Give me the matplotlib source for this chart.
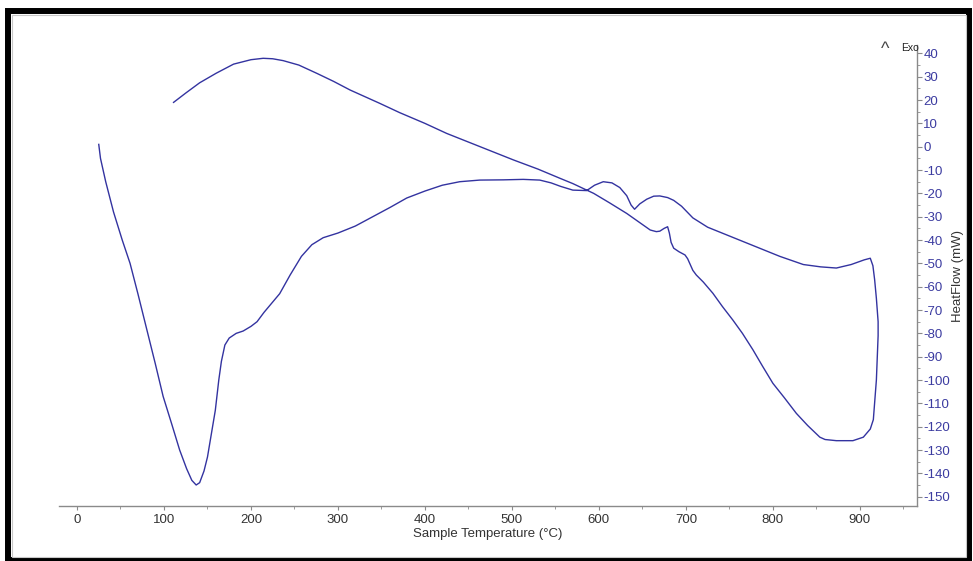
import matplotlib
matplotlib.use('Agg')
import matplotlib.pyplot as plt
from matplotlib.patches import Rectangle
from matplotlib.ticker import MultipleLocator

plt.rcParams['font.family'] = ['Liberation Sans', 'DejaVu Sans']
plt.rcParams['axes.unicode_minus'] = False

# DSC trace: heating run then the cooling run, one continuous record
temp = [25, 27, 33, 42, 52, 61, 70, 80, 90, 99, 109, 118, 126, 132, 137, 141, 146, 150,
        155, 159, 163, 166, 170, 175, 183, 191, 200, 207, 215, 224, 233, 245, 258, 270,
        283, 300, 320, 340, 360, 379, 400, 420, 440, 463, 490, 513, 532, 545, 556, 570,
        586, 595, 605, 615, 624, 632, 637, 641, 647, 655, 663, 670, 679, 686, 695, 708,
        725, 745, 762, 785, 808, 835, 855, 873, 890, 905, 912, 915, 917, 919, 921, 921,
        920, 919, 917, 915.5, 912, 904, 892, 873, 860, 854, 840, 827, 813, 800, 788, 777,
        765, 754, 742, 731, 720, 712, 708, 705, 702, 699, 692, 686, 683, 681, 679, 675,
        670, 666, 659, 645, 632, 612, 594, 586, 570, 555, 530, 502, 465, 425, 400, 371,
        348, 314, 295, 276, 255, 237, 225, 214, 200, 180, 160, 141, 125, 111]
heatflow = [1, -5, -15, -28, -40, -50, -63, -78, -93, -107, -119, -130, -138, -143, -145,
            -144, -139, -133, -122, -113, -100, -92, -85, -82, -80, -79, -77, -75, -71, -67,
            -63, -55, -47, -42, -39, -37, -34, -30, -26, -22, -19, -16.5, -15, -14.3, -14.2,
            -14, -14.3, -15.5, -17, -18.6, -18.8, -16.5, -15, -15.5, -17.5, -21, -25, -26.8,
            -24.5, -22.5, -21.2, -21.1, -21.8, -23, -25.5, -30.5, -34.5, -37.5, -40, -43.5,
            -47, -50.5, -51.5, -52, -50.5, -48.5, -47.8, -51, -57, -65, -75, -81, -90, -100,
            -110, -117, -121, -124.5, -126, -126, -125.5, -124.5, -119.5, -114.3, -107.5,
            -101.4, -94, -87, -80, -74.3, -68.5, -62.8, -58, -55, -53, -50.5, -48, -46.4, -45,
            -43.5, -41, -37, -34.3, -35, -36.2, -36.4, -35.7, -32, -28.6, -24, -20, -18.6,
            -15.8, -13.5, -9.6, -5.7, -0.2, 5.7, 10, 14.6, 18.6, 24.3, 28, 31.4, 35, 36.9,
            37.7, 37.9, 37.3, 35.4, 31.5, 27.4, 23, 19]

x_ticks = list(range(0, 901, 100))
y_ticks = list(range(-150, 41, 10))

W, H = 973, 561
fig = plt.figure(figsize=(W / 100, H / 100), dpi=100)
ax = fig.add_axes([59 / W, 55 / H, 858 / W, 461 / H])

ax.plot(temp, heatflow, color='#3333a0', linewidth=1.0)

ax.set_xlim(-20.7, 965.7)
ax.set_ylim(-154, 43.6)
ax.set_xticks(x_ticks)
ax.set_yticks(y_ticks)
ax.xaxis.set_minor_locator(MultipleLocator(50))
ax.yaxis.set_minor_locator(MultipleLocator(5))

ax.yaxis.tick_right()
ax.yaxis.set_label_position('right')
for side in ['left', 'top']:
    ax.spines[side].set_visible(False)
for side in ['bottom', 'right']:
    ax.spines[side].set_color('#8a8a8a')
    ax.spines[side].set_linewidth(1.0)

ax.tick_params(axis='x', which='major', length=3, color='#8a8a8a', labelsize=9.5,
               labelcolor='#333333', pad=3)
ax.tick_params(axis='x', which='minor', length=2, color='#8a8a8a')
ax.tick_params(axis='y', which='major', length=3.5, color='#8a8a8a', labelsize=9.5,
               labelcolor='#3b3ba0', pad=1)
ax.tick_params(axis='y', which='minor', length=2, color='#8a8a8a')

ax.set_xlabel('Sample Temperature (°C)', fontsize=9.5, color='#333333', labelpad=1)
ax.set_ylabel('HeatFlow (mW)', fontsize=9.5, color='#333333')
ax.yaxis.set_label_coords((952 - 59) / 858, 0.5)

fig.text(885 / W, 1 - 50 / H, '^', fontsize=13, color='#444444', ha='center', va='center')
fig.text(901 / W, 1 - 48 / H, 'Exo', fontsize=7.5, color='#222222', ha='left', va='center')

# window frame around the whole picture
fig.patches.append(Rectangle((8 / W, 1 - 560 / H), 961 / W, 549 / H, transform=fig.transFigure,
                             fill=False, edgecolor='black', linewidth=4.3))
fig.patches.append(Rectangle((11.5 / W, 1 - 556.5 / H), 954 / W, 542 / H,
                             transform=fig.transFigure, fill=False, edgecolor='#c8c8c8',
                             linewidth=0.8))

fig.savefig('out.png', dpi=100)
